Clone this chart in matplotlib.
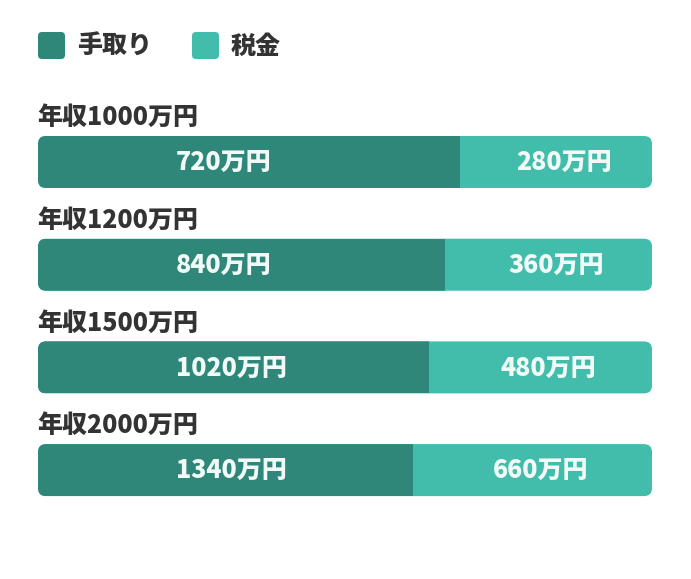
import matplotlib
matplotlib.use("Agg")
import matplotlib.pyplot as plt
from matplotlib.patches import FancyBboxPatch, Rectangle

plt.rcParams['font.family'] = ['Noto Sans CJK JP', 'DejaVu Sans']

# ---- data ----
categories = ["年収1000万円", "年収1200万円", "年収1500万円", "年収2000万円"]
takehome = [720, 840, 1020, 1340]          # 万円
tax = [280, 360, 480, 660]                 # 万円
takehome_share_pct = [68.7, 66.3, 63.7, 61.0]  # visual width of the 手取り segment
legend_labels = ["手取り", "税金"]

# ---- style ----
DARK = "#2E8779"
LIGHT = "#42BDAB"
TEXT = "#333333"
BAR_TEXT = "#F2FAF7"
FS = 18
FW = "heavy"

fig = plt.figure(figsize=(6.91, 5.79), dpi=100)
fig.patch.set_facecolor("white")
ax = fig.add_axes([0, 0, 1, 1])
ax.set_xlim(0, 691)
ax.set_ylim(579, 0)
ax.axis("off")

BAR_X0 = 38
BAR_W = 614
ROW0_TOP = 136
ROW_STEP = 102.7
BAR_H = 52
RADIUS = 8

# legend
leg_x = [38, 192]
for lx, lab, col in zip(leg_x, legend_labels, [DARK, LIGHT]):
    sq = FancyBboxPatch((lx, 32), 27, 27, boxstyle="round,pad=0,rounding_size=4",
                        facecolor=col, edgecolor="none")
    ax.add_patch(sq)
    ax.text(lx + 39, 46, lab, fontsize=FS, fontweight=FW, color=TEXT,
            ha="left", va="center")

for i, (cat, th, tx, sh) in enumerate(zip(categories, takehome, tax, takehome_share_pct)):
    top = ROW0_TOP + i * ROW_STEP
    ax.text(BAR_X0 - 1, top - 19, cat, fontsize=FS, fontweight=FW, color=TEXT,
            ha="left", va="center")
    full = FancyBboxPatch((BAR_X0, top), BAR_W, BAR_H,
                          boxstyle=f"round,pad=0,rounding_size={RADIUS}",
                          facecolor=LIGHT, edgecolor="none")
    ax.add_patch(full)
    split = BAR_X0 + BAR_W * sh / 100.0
    dark = FancyBboxPatch((BAR_X0, top), BAR_W, BAR_H,
                          boxstyle=f"round,pad=0,rounding_size={RADIUS}",
                          facecolor=DARK, edgecolor="none")
    ax.add_patch(dark)
    clip = Rectangle((BAR_X0, top), split - BAR_X0, BAR_H, transform=ax.transData)
    dark.set_clip_path(clip)
    ymid = top + BAR_H / 2
    ax.text(BAR_X0 + 0.225 * BAR_W, ymid, f"{th}万円", fontsize=FS, fontweight=FW,
            color=BAR_TEXT, ha="left", va="center")
    ax.text((split + BAR_X0 + BAR_W) / 2 + 8, ymid, f"{tx}万円", fontsize=FS,
            fontweight=FW, color=BAR_TEXT, ha="center", va="center")

fig.savefig("out.png", dpi=100, facecolor="white")
